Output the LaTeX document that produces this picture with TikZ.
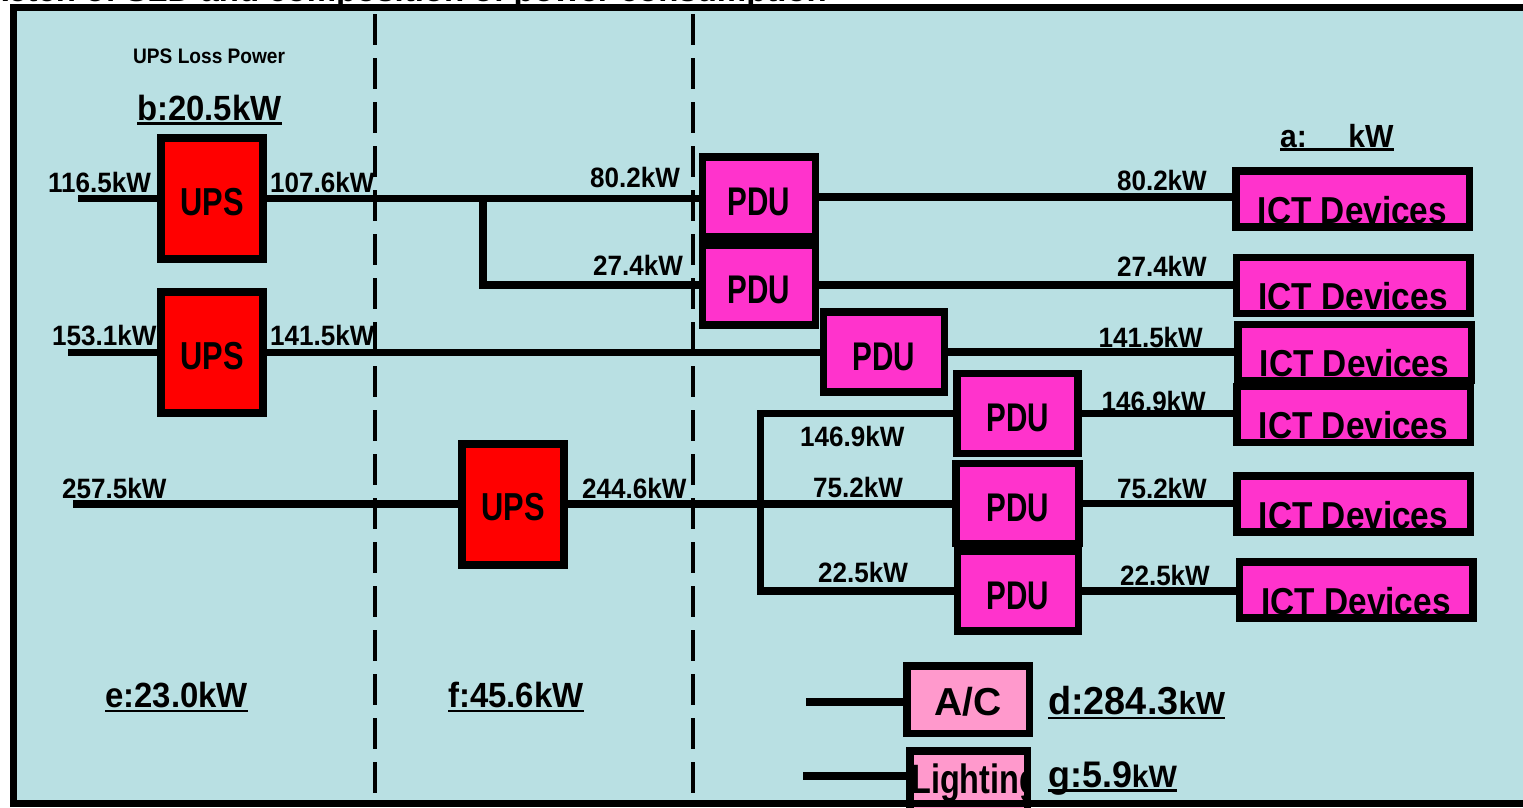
\documentclass[tikz,border=0pt]{standalone}
\usepackage{fontspec}
\setmainfont{Liberation Sans}
\usepackage{graphicx}
\definecolor{bg}{HTML}{B9E0E3}
\definecolor{upsred}{HTML}{FF0000}
\definecolor{pdumag}{HTML}{FF33CC}
\definecolor{acpink}{HTML}{FF99CC}
\newcommand\sq[2]{\scalebox{#1}[1]{#2}}
\newcommand\fs[1]{\fontsize{#1}{#1}\selectfont}
\begin{document}
\begin{tikzpicture}[x=1pt,y=-1pt,
  wire/.style={line width=7.5pt},
  sepline/.style={line width=4pt, dash pattern=on 31pt off 13pt},
  upsbox/.style={draw, line width=8pt, fill=upsred, inner sep=0pt, minimum width=102pt, minimum height=121pt, text height=33pt, text depth=0pt, font=\bfseries\fs{39}},
  pdubox/.style={draw, line width=7.5pt, fill=pdumag, inner sep=0pt, minimum width=113pt, minimum height=80pt, text height=36pt, text depth=0pt, font=\bfseries\fs{40}},
  ictbox/.style={fill=pdumag, inner sep=0pt, outer sep=0pt, minimum width=233.5pt, minimum height=56pt, text height=48pt, text depth=0pt, font=\bfseries\fs{37.5}},
  pinkbox/.style={fill=acpink, inner sep=0pt, outer sep=0pt},
  border/.style={line width=7.5pt},
  num/.style={inner sep=0pt, font=\bfseries\fs{28}},
  big/.style={inner sep=0pt, font=\bfseries\fs{35}},
  uline/.style={line width=2.5pt}]
\useasboundingbox (0,0) rectangle (1523,807);
\clip (0,0) rectangle (1523,807);
\fill[white] (0,0) rectangle (1523,807);
\fill[bg] (13.5,7.5) rectangle (1560,803.5);

% title (cut off at the top, as in the reference)
\node[anchor=base east, inner sep=0pt, font=\bfseries\fs{32}] (title) at (827,1.5) {\sq{1.03}{Sketch of SLD and composition of power consumption}};

% separators
\draw[sepline] (375,14) -- (375,800);
\draw[sepline] (693,14) -- (693,800);

% boxes
\node[upsbox] (ups1) at (212,198.5) {\sq{0.79}{UPS}};
\node[upsbox] (ups2) at (212,352.5) {\sq{0.79}{UPS}};
\node[upsbox] (ups3) at (513,504) {\sq{0.79}{UPS}};

\node[pdubox] (pdu1) at (759,197) {\sq{0.74}{PDU}};
\node[pdubox] (pdu2) at (759,285) {\sq{0.74}{PDU}};
\node[pdubox, minimum width=121pt] (pdu3) at (884,352) {\sq{0.74}{PDU}};
\node[pdubox, minimum width=121pt] (pdu4) at (1017.5,413.5) {\sq{0.74}{PDU}};
\node[pdubox, minimum width=123pt] (pdu5) at (1017.5,503.5) {\sq{0.74}{PDU}};
\node[pdubox, minimum width=121pt] (pdu6) at (1018,591) {\sq{0.74}{PDU}};

\node[ictbox] (ict1) at (1352.5,199) {\sq{0.89}{ICT Devices}};
\node[ictbox] (ict2) at (1353,285.5) {\sq{0.89}{ICT Devices}};
\node[ictbox] (ict3) at (1354.5,352.5) {\sq{0.89}{ICT Devices}};
\node[ictbox] (ict4) at (1353.5,414.5) {\sq{0.89}{ICT Devices}};
\node[ictbox] (ict5) at (1353.5,504) {\sq{0.89}{ICT Devices}};
\node[ictbox] (ict6) at (1356,590) {\sq{0.89}{ICT Devices}};
\foreach \n in {ict1,ict2,ict3,ict4,ict5,ict6}
  \draw[border] (\n.north west) rectangle (\n.south east);

\node[pinkbox, minimum width=122.5pt, minimum height=67.5pt, text height=31pt, text depth=0pt, font=\bfseries\fs{39}] (ac) at (968,699.5) {A/C};
\draw[border] (ac.north west) rectangle (ac.south east);

\node[pinkbox, minimum width=117.5pt, minimum height=74pt] (light) at (968.5,788) {};
\begin{scope}
  \clip (light.north west) rectangle (light.south east);
  \node[anchor=base west, inner sep=0pt, font=\bfseries\fs{41}] (lighttxt) at (911,793) {\sq{0.79}{Lighting}};
\end{scope}
\draw[border] (light.north west) rectangle (light.south east);

% feed points
\coordinate (in1) at (78,198.5);
\coordinate (in2) at (68,352.5);
\coordinate (in3) at (73,504);
\coordinate (j1) at (483,198.5);
\coordinate (j3) at (760.5,504);
\coordinate (inac) at (806,702);
\coordinate (inlt) at (803,776);

% connectors
\draw[wire] (in1) -- (in1 -| ups1.west);
\draw[wire] (ups1.east) -- (ups1.east -| pdu1.west);
\draw[wire] (j1) |- (pdu2.west);
\draw[wire] (pdu1.east) -- (pdu1.east -| ict1.west);
\draw[wire] (pdu2.east) -- (pdu2.east -| ict2.west);

\draw[wire] (in2) -- (in2 -| ups2.west);
\draw[wire] (ups2.east) -- (ups2.east -| pdu3.west);
\draw[wire] (pdu3.east) -- (pdu3.east -| ict3.west);

\draw[wire] (in3) -- (in3 -| ups3.west);
\draw[wire] (ups3.east) -- (ups3.east -| pdu5.west);
\draw[wire] (pdu4.west) -| (j3) |- (pdu6.west);
\draw[wire] (pdu4.east) -- (pdu4.east -| ict4.west);
\draw[wire] (pdu5.east) -- (pdu5.east -| ict5.west);
\draw[wire] (pdu6.east) -- (pdu6.east -| ict6.west);

\draw[wire] (inac) -- (inac -| ac.west);
\draw[wire] (inlt) -- (inlt -| light.west);

% flow labels
\node[num, anchor=base west] (l1165) at (48,192) {\sq{0.93}{116.5kW}};
\node[num, anchor=base west] (l1076) at (270,192) {\sq{0.93}{107.6kW}};
\node[num, anchor=base west] (l1531) at (52,345) {\sq{0.93}{153.1kW}};
\node[num, anchor=base west] (l1415a) at (270,345) {\sq{0.93}{141.5kW}};
\node[num, anchor=base west] (l2575) at (62,498) {\sq{0.93}{257.5kW}};
\node[num, anchor=base west] (l2446) at (582,498) {\sq{0.93}{244.6kW}};
\node[num, anchor=base west] (l802a) at (590,187) {\sq{0.93}{80.2kW}};
\node[num, anchor=base west] (l274a) at (593,275) {\sq{0.93}{27.4kW}};
\node[num, anchor=base east] (l802b) at (1207,190) {\sq{0.93}{80.2kW}};
\node[num, anchor=base east] (l274b) at (1207,276) {\sq{0.93}{27.4kW}};
\node[num, anchor=base east] (l1415b) at (1203,347) {\sq{0.93}{141.5kW}};
\node[num, anchor=base east] (l1469b) at (1206,411) {\sq{0.93}{146.9kW}};
\node[num, anchor=base west] (l1469a) at (800,446) {\sq{0.93}{146.9kW}};
\node[num, anchor=base west] (l752a) at (813,497) {\sq{0.93}{75.2kW}};
\node[num, anchor=base west] (l225a) at (818,582) {\sq{0.93}{22.5kW}};
\node[num, anchor=base east] (l752b) at (1207,498) {\sq{0.93}{75.2kW}};
\node[num, anchor=base east] (l225b) at (1210,585) {\sq{0.93}{22.5kW}};

% summary labels
\node[inner sep=0pt, anchor=base west, font=\bfseries\fs{21}] (loss) at (133,63) {\sq{0.91}{UPS Loss Power}};
\node[big, anchor=base west] (lb) at (137,120) {\sq{0.94}{b:20.5kW}};
\node[big, anchor=base west] (le) at (105,707) {\sq{0.94}{e:23.0kW}};
\node[big, anchor=base west] (lf) at (448,707) {\sq{0.94}{f:45.6kW}};
\node[inner sep=0pt, anchor=base west, font=\bfseries\fs{32}] (la) at (1280,147) {\sq{0.94}{a:\hspace{44pt}kW}};
\node[inner sep=0pt, anchor=base west] (ld) at (1048,714) {\sq{0.97}{\bfseries\fs{39}d:284.3\fs{32}kW}};
\node[inner sep=0pt, anchor=base west] (lg) at (1048,787) {\sq{0.97}{\bfseries\fs{37}g:5.9\fs{31}kW}};
\foreach \n/\d in {lb/3.5,le/4,lf/4,la/2.5,ld/4,lg/3.5}
  \draw[uline] ([yshift=-\d pt]\n.base west) -- ([yshift=-\d pt]\n.base east);

% outer frame
\draw[line width=7.5pt] (13.5,7.5) rectangle (1560,803.5);
\end{tikzpicture}
\end{document}
